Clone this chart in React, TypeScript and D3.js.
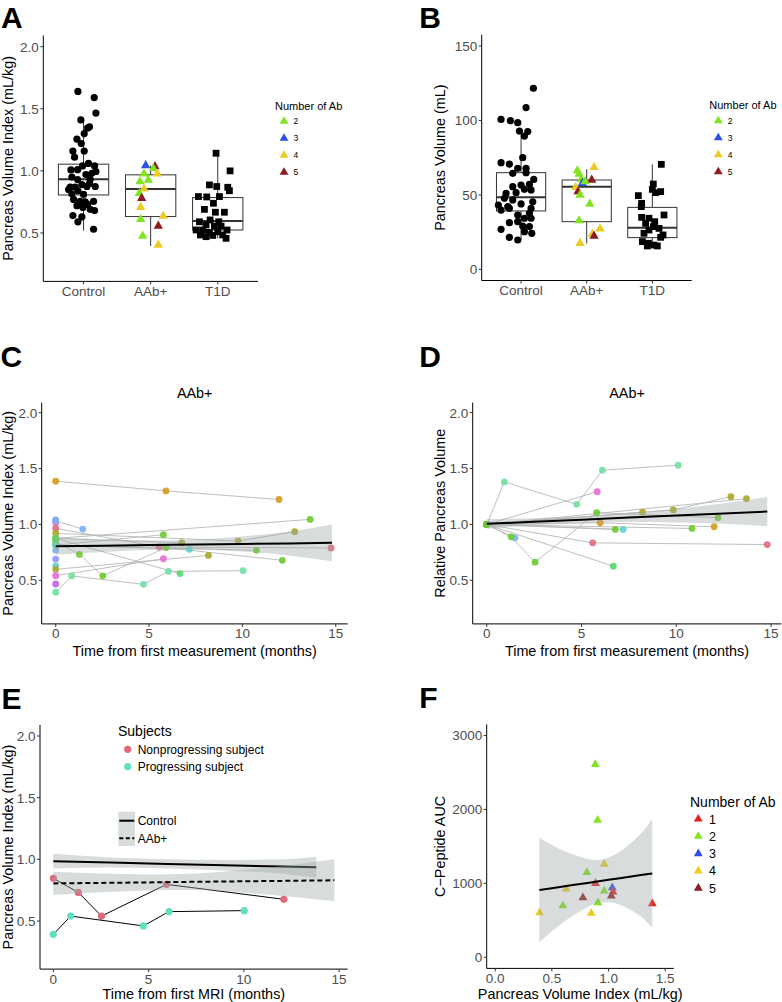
import React from "react";
import * as d3 from "d3";

const FONT = "'Liberation Sans', Arial, Helvetica, sans-serif";
const TICK_COL = "#4d4d4d";
const TICK_FS = 13.5;
const TITLE_FS = 14.4;

// ---------- A & B: group comparison ----------
const groups = ["Control", "AAb+", "T1D"];
const abLevelsAB = ["2", "3", "4", "5"];
const abLevelsF = ["1", "2", "3", "4", "5"];
const abColor: Record<string, string> = {
  "1": "#e3221c",
  "2": "#80e41f",
  "3": "#2d4fe3",
  "4": "#eecb22",
  "5": "#8e1b1f",
};

// A: pancreas volume index (mL/kg); jitter in category units
const idxControl = [1.64, 1.59, 1.465, 1.41, 1.345, 1.355, 1.3, 1.255, 1.22, 1.16, 1.16, 1.11, 1.008, 1.01, 1.04, 1.06, 1.04, 0.995, 0.97, 0.93, 0.95, 0.93, 0.85, 0.815, 0.84, 0.89, 0.875, 0.874, 0.77, 0.755, 0.75, 0.755, 0.72, 0.705, 0.69, 0.68, 0.64, 0.63, 0.59, 0.53, 0.87, 0.87, 0.9, 0.98, 0.81, 0.73];
const idxControlJit = [-0.084, 0.159, 0.184, -0.04, 0.06, 0.089, 0.01, -0.099, -0.035, -0.159, 0.01, -0.134, -0.188, -0.089, -0.015, 0.074, 0.164, 0.184, 0.035, 0.099, -0.174, -0.089, -0.223, -0.174, -0.084, -0.025, 0.05, 0.174, -0.149, -0.05, 0.025, 0.149, -0.099, -0.01, 0.099, 0.164, -0.159, -0.025, -0.084, 0.149, -0.198, -0.124, 0.089, 0.124, 0, 0.06];
const idxAAb = [1.043, 1.035, 1.02, 0.976, 0.976, 0.927, 0.914, 0.855, 0.82, 0.78, 0.707, 0.61, 0.637, 0.556, 0.476, 0.403];
const idxAAbAb = ["3", "5", "2", "2", "4", "2", "2", "4", "2", "5", "4", "2", "4", "5", "2", "4"];
const idxAAbJit = [-0.074, 0.064, 0.04, -0.099, 0.099, -0.035, -0.159, -0.099, -0.169, -0.134, -0.149, -0.149, 0.188, 0.114, -0.119, 0.114];
const idxT1D = [1.142, 1.0, 0.887, 0.874, 0.868, 0.84, 0.793, 0.79, 0.793, 0.739, 0.69, 0.667, 0.667, 0.605, 0.59, 0.59, 0.565, 0.555, 0.555, 0.524, 0.524, 0.505, 0.51, 0.524, 0.484, 0.48, 0.484, 0.457, 0.47];
const idxT1DJit = [-0.025, 0.184, -0.124, -0.015, 0.149, 0.174, -0.288, -0.164, 0.025, -0.064, -0.198, -0.035, 0.099, -0.114, 0.015, -0.273, -0.174, -0.05, 0.05, -0.322, -0.223, -0.124, 0, 0.139, -0.258, -0.074, 0.074, 0.124, -0.174];
// lower whisker, Q1, median, Q3, upper whisker
const idxBoxes = [
  [0.52, 0.806, 0.933, 1.054, 1.41],
  [0.395, 0.632, 0.855, 0.968, 1.043],
  [0.457, 0.524, 0.597, 0.785, 1.142],
];

// B: pancreas volume (mL)
const volControl = [121.6, 108.6, 100.7, 99.8, 98.5, 92.5, 92.9, 89.5, 75.0, 71.6, 70.7, 67.8, 67.8, 64.5, 64.9, 60.4, 56.6, 57.1, 55.5, 53.7, 51.5, 51.0, 53.3, 47.7, 46.6, 45.4, 43.2, 42.1, 43.9, 39.8, 41.0, 41.0, 36.5, 37.6, 34.3, 32.0, 34.3, 31.3, 29.1, 28.7, 26.9, 25.3, 24.2, 21.5, 19.7];
const volControlJit = [0.188, 0.076, -0.305, -0.163, -0.051, 0.102, -0.025, 0.051, 0.025, -0.305, -0.178, -0.051, 0.076, -0.127, 0.076, 0.193, 0, 0.127, -0.127, 0.051, -0.076, -0.229, 0.152, -0.254, -0.127, 0.178, -0.346, -0.203, 0, -0.305, -0.178, 0.152, -0.051, 0.127, 0.051, -0.051, 0.152, -0.178, 0.025, 0.127, -0.305, 0.051, 0.163, -0.178, -0.051];
const volAAb = [66.3, 64.0, 68.5, 60.4, 60.0, 57.8, 58.9, 55.1, 52.2, 49.9, 43.9, 32.7, 27.3, 23.7, 22.4, 17.5];
const volAAbAb = ["2", "2", "4", "2", "5", "3", "2", "4", "5", "2", "2", "2", "4", "4", "5", "4"];
const volAAbJit = [-0.142, -0.117, 0.112, -0.081, 0.076, -0.066, -0.025, -0.168, -0.132, -0.102, 0.046, -0.117, 0.203, 0.086, 0.112, -0.102];
const volT1D = [70.5, 57.3, 53.7, 52.2, 51.5, 49.5, 44.3, 42.1, 36.5, 34.9, 34.3, 32.0, 30.9, 28.7, 27.5, 26.4, 24.2, 23.1, 21.5, 18.6, 17.5, 16.3, 15.7, 15.7];
const volT1DJit = [0.137, 0.015, 0, 0.127, 0.051, -0.213, -0.163, -0.168, 0.178, -0.163, -0.051, 0.036, -0.102, 0.015, 0.102, -0.051, -0.127, 0.163, 0.127, -0.152, -0.061, 0.025, 0.076, -0.076];
const volBoxes = [
  [19.5, 39.2, 48.4, 64.9, 93],
  [17.5, 32.0, 55.5, 60.0, 67.2],
  [15.7, 21.3, 28.0, 41.6, 70.5],
];

// ---------- C & D: longitudinal AAb+ ----------
const PAL = {
  orange: "#d49a1d",
  olive: "#a9a727",
  green: "#6bcb2b",
  lgreen: "#58d86f",
  mint: "#70e0a2",
  cyan: "#62d0d0",
  lblue: "#74b5f2",
  peri: "#9093f2",
  purple: "#c262ea",
  magenta: "#e66bd8",
  pink: "#e0697a",
};

type Subject = { col: string; t: number[]; v: number[] };

const cSubjects: Subject[] = [
  { col: PAL.orange, t: [0, 5.91, 11.96], v: [1.387, 1.3, 1.223] },
  { col: PAL.lblue, t: [0, 1.45], v: [1.032, 0.958] },
  { col: PAL.pink, t: [0, 5.55, 14.75], v: [0.964, 0.798, 0.789] },
  { col: PAL.olive, t: [0, 9.77, 12.8], v: [0.92, 0.851, 0.935] },
  { col: PAL.green, t: [0, 13.63], v: [0.875, 1.045] },
  { col: PAL.green, t: [0, 1.27, 2.52, 5.91, 12.14], v: [0.845, 0.732, 0.54, 0.792, 0.679] },
  { col: PAL.green, t: [0, 5.77], v: [0.815, 0.908] },
  { col: PAL.olive, t: [0, 6.75], v: [0.875, 0.836] },
  { col: PAL.green, t: [0, 10.75], v: [0.815, 0.768] },
  { col: PAL.cyan, t: [0, 7.16], v: [0.815, 0.777] },
  { col: PAL.lgreen, t: [0, 6.66], v: [0.875, 0.56] },
  { col: PAL.olive, t: [0, 8.18], v: [0.598, 0.723] },
  { col: PAL.magenta, t: [0, 5.77], v: [0.541, 0.693] },
  { col: PAL.mint, t: [0, 0.86, 4.7, 6.04, 10.04], v: [0.393, 0.539, 0.464, 0.58, 0.586] },
];
const cSingleV = [1.04, 1.014, 0.77, 0.69, 0.63, 0.467];
const cSingleCol = [PAL.peri, PAL.magenta, PAL.lblue, PAL.peri, PAL.cyan, PAL.purple];
const cFitT = [0, 2.5, 5, 7.5, 10, 12.5, 14.8];
const cFit = [0.805, 0.81, 0.815, 0.82, 0.825, 0.83, 0.835];
const cFitHi = [0.882, 0.866, 0.858, 0.866, 0.893, 0.937, 1.0];
const cFitLo = [0.728, 0.754, 0.772, 0.774, 0.757, 0.723, 0.67];

const dSubjects: Subject[] = [
  { col: PAL.mint, t: [0, 0.93, 4.75, 6.1, 10.1], v: [1, 1.38, 1.18, 1.485, 1.53] },
  { col: PAL.magenta, t: [0, 5.83], v: [1, 1.293] },
  { col: PAL.lgreen, t: [0, 6.68], v: [1, 0.626] },
  { col: PAL.lblue, t: [0, 1.49], v: [1, 0.88] },
  { col: PAL.pink, t: [0, 5.59, 14.8], v: [1, 0.835, 0.82] },
  { col: PAL.cyan, t: [0, 7.2], v: [1, 0.955] },
  { col: PAL.orange, t: [0, 5.98, 12.0], v: [1, 1.015, 0.979] },
  { col: PAL.olive, t: [0, 8.22], v: [1, 1.11] },
  { col: PAL.olive, t: [0, 9.84, 12.88], v: [1, 1.13, 1.248] },
  { col: PAL.olive, t: [0, 13.7], v: [1, 1.23] },
  { col: PAL.green, t: [0, 10.83], v: [1, 0.964] },
  { col: PAL.green, t: [0, 6.78], v: [1, 0.955] },
  { col: PAL.green, t: [0, 1.28, 2.55, 5.8, 12.2], v: [1, 0.889, 0.662, 1.105, 1.06] },
];
const dFitT = [0, 2.5, 5, 7.5, 10, 12.5, 14.8];
const dFit = [1.005, 1.024, 1.042, 1.061, 1.079, 1.098, 1.115];
const dFitHi = [1.048, 1.055, 1.072, 1.1, 1.14, 1.19, 1.245];
const dFitLo = [0.962, 0.993, 1.012, 1.022, 1.018, 1.006, 0.985];

// ---------- E: progressors vs non-progressors ----------
const nonprogT = [0, 1.31, 2.53, 5.94, 12.1];
const nonprogV = [0.846, 0.732, 0.54, 0.797, 0.676];
const progT = [0, 0.91, 4.72, 6.07, 10.02];
const progV = [0.392, 0.54, 0.46, 0.576, 0.584];
const ctrlFitT = [0, 3, 6, 9, 12, 13.8];
const ctrlFit = [0.985, 0.974, 0.963, 0.952, 0.942, 0.935];
const ctrlFitHi = [1.045, 1.015, 1.0, 0.995, 1.0, 1.02];
const ctrlFitLo = [0.925, 0.933, 0.926, 0.909, 0.884, 0.85];
const aabFitT = [0, 2.5, 5, 7.5, 10, 12.5, 14.75];
const aabFit = [0.805, 0.809, 0.813, 0.818, 0.822, 0.826, 0.83];
const aabFitHi = [0.9, 0.885, 0.878, 0.885, 0.915, 0.955, 1.0];
const aabFitLo = [0.71, 0.733, 0.748, 0.751, 0.729, 0.697, 0.66];
const subjectLabels = ["Nonprogressing subject", "Progressing subject"];
const subjectColors = ["#e2697c", "#62dfbf"];

// ---------- F: C-peptide vs volume index ----------
const fIndex = [0.883, 0.903, 0.962, 0.809, 0.885, 0.627, 1.033, 1.04, 0.962, 1.024, 0.774, 0.906, 0.597, 1.386, 0.391, 0.847];
const fCpep = [2608, 1856, 1261, 1149, 1000, 923, 941, 883, 896, 829, 806, 739, 698, 725, 604, 595];
const fAb = ["2", "2", "4", "2", "1", "4", "3", "1", "2", "5", "5", "2", "2", "1", "4", "4"];
const fFitX = [0.39, 0.5, 0.6, 0.7, 0.8, 0.9, 1.0, 1.1, 1.2, 1.3, 1.386];
const fFit = [910, 935, 958, 980, 1003, 1025, 1048, 1070, 1093, 1116, 1135];
const fFitHi = [1617, 1518, 1441, 1383, 1338, 1315, 1351, 1428, 1550, 1698, 1870];
const fFitLo = [203, 352, 475, 577, 668, 735, 745, 712, 636, 534, 400];

const fmt1 = d3.format(".1f");
const fmt0 = d3.format("d");
const BAND_FILL = "#9ea8a8";
const BAND_OP = 0.4;
const YTITLE_LEFT = 12.5;
const YTITLE_RIGHT = 445;

type Scale = d3.ScaleLinear<number, number>;

function YAxis({ scale, x, ticks, fmt }: { scale: Scale; x: number; ticks: number[]; fmt: (v: number) => string }) {
  const [b, t] = scale.range();
  return (
    <g>
      <line x1={x} x2={x} y1={b} y2={t} stroke="#000" strokeWidth={1} />
      {ticks.map((v) => (
        <g key={v}>
          <line x1={x - 3} x2={x} y1={scale(v)} y2={scale(v)} stroke="#333" strokeWidth={1} />
          <text x={x - 4.5} y={scale(v)} dy="0.36em" textAnchor="end" fontSize={TICK_FS} fill={TICK_COL}>
            {fmt(v)}
          </text>
        </g>
      ))}
    </g>
  );
}

function XAxis({ scale, y, ticks, labels }: { scale: Scale; y: number; ticks: number[]; labels: string[] }) {
  const [l, r] = scale.range();
  return (
    <g>
      <line x1={l} x2={r} y1={y} y2={y} stroke="#000" strokeWidth={1} />
      {ticks.map((v, i) => (
        <g key={v}>
          <line x1={scale(v)} x2={scale(v)} y1={y} y2={y + 3} stroke="#333" strokeWidth={1} />
          <text x={scale(v)} y={y + 14.5} textAnchor="middle" fontSize={TICK_FS} fill={TICK_COL}>
            {labels[i]}
          </text>
        </g>
      ))}
    </g>
  );
}

function YTitle({ x, y, text }: { x: number; y: number; text: string }) {
  return (
    <text transform={`translate(${x},${y}) rotate(-90)`} textAnchor="middle" fontSize={TITLE_FS} fill="#000">
      {text}
    </text>
  );
}

function PanelLabel({ x, y, text }: { x: number; y: number; text: string }) {
  return (
    <text x={x} y={y} fontSize={30} fontWeight="bold" fill="#000">
      {text}
    </text>
  );
}

function Band({ x, y, xs, lo, hi, fit, dash }: { x: Scale; y: Scale; xs: number[]; lo: number[]; hi: number[]; fit: number[]; dash?: string }) {
  const area = d3
    .area<number>()
    .x((_, i) => x(xs[i]))
    .y0((_, i) => y(lo[i]))
    .y1((_, i) => y(hi[i]))
    .curve(d3.curveMonotoneX);
  const line = d3
    .line<number>()
    .x((_, i) => x(xs[i]))
    .y((_, i) => y(fit[i]));
  return (
    <g>
      <path d={area(xs) || ""} fill={BAND_FILL} opacity={BAND_OP} />
      <path d={line(xs) || ""} fill="none" stroke="#000" strokeWidth={2} strokeDasharray={dash} />
    </g>
  );
}

type BoxProps = {
  left: number;
  right: number;
  top: number;
  bottom: number;
  yDomain: [number, number];
  yTicks: number[];
  yFmt: (v: number) => string;
  yTitle: string;
  yTitleX: number;
  boxes: number[][];
  ctrlV: number[];
  ctrlJit: number[];
  aabV: number[];
  aabAb: string[];
  aabJit: number[];
  t1dV: number[];
  t1dJit: number[];
  legX: number;
  legY: number;
};

function BoxPanel(p: BoxProps) {
  const x = d3.scaleLinear().domain([0.4, 3.6]).range([p.left, p.right]);
  const unit = x(2) - x(1);
  const y = d3.scaleLinear().domain(p.yDomain).range([p.bottom, p.top]);
  const tri = d3.symbol(d3.symbolTriangle, 38)() || "";
  const sq = d3.symbol(d3.symbolSquare, 46)() || "";
  const legTri = d3.symbol(d3.symbolTriangle, 34)() || "";
  const half = 0.375 * unit;
  return (
    <g>
      {p.boxes.map((b, i) => {
        const cx = x(i + 1);
        return (
          <g key={i} stroke="#333" fill="none">
            <line x1={cx} x2={cx} y1={y(b[0])} y2={y(b[1])} strokeWidth={1} />
            <line x1={cx} x2={cx} y1={y(b[3])} y2={y(b[4])} strokeWidth={1} />
            <rect x={cx - half} width={2 * half} y={y(b[3])} height={y(b[1]) - y(b[3])} fill="white" strokeWidth={1} />
            <line x1={cx - half} x2={cx + half} y1={y(b[2])} y2={y(b[2])} strokeWidth={2} />
          </g>
        );
      })}
      {p.ctrlV.map((v, i) => (
        <circle key={i} cx={x(1 + p.ctrlJit[i])} cy={y(v)} r={3.6} fill="#000" />
      ))}
      {p.aabV.map((v, i) => (
        <path key={i} d={tri} transform={`translate(${x(2 + p.aabJit[i])},${y(v)})`} fill={abColor[p.aabAb[i]]} />
      ))}
      {p.t1dV.map((v, i) => (
        <path key={i} d={sq} transform={`translate(${x(3 + p.t1dJit[i])},${y(v)})`} fill="#000" />
      ))}
      <YAxis scale={y} x={p.left} ticks={p.yTicks} fmt={p.yFmt} />
      <XAxis scale={x} y={p.bottom} ticks={[1, 2, 3]} labels={groups} />
      <YTitle x={p.yTitleX} y={(p.top + p.bottom) / 2} text={p.yTitle} />
      <text x={p.legX} y={p.legY} fontSize={11} fill="#000">
        Number of Ab
      </text>
      {abLevelsAB.map((lv, i) => (
        <g key={lv} transform={`translate(0,${p.legY + 11.8 + i * 17})`}>
          <path d={legTri} transform={`translate(${p.legX + 9},0)`} fill={abColor[lv]} />
          <text x={p.legX + 18.5} y={0} dy="0.35em" fontSize={8.5} fill="#000">
            {lv}
          </text>
        </g>
      ))}
    </g>
  );
}

type TrajProps = {
  left: number;
  right: number;
  top: number;
  bottom: number;
  xDomain: [number, number];
  subjects: Subject[];
  singleV?: number[];
  singleCol?: string[];
  fitT: number[];
  fit: number[];
  fitHi: number[];
  fitLo: number[];
  yTitle: string;
  yTitleX: number;
};

function TrajPanel(p: TrajProps) {
  const x = d3.scaleLinear().domain(p.xDomain).range([p.left, p.right]);
  const y = d3.scaleLinear().domain([0.11, 2.09]).range([p.bottom, p.top]);
  const line = d3.line<number>();
  return (
    <g>
      {p.subjects.map((s, k) => (
        <path
          key={k}
          d={line(s.t.map((t, i) => [x(t), y(s.v[i])]) as any) || ""}
          fill="none"
          stroke="#b8b8b8"
          strokeWidth={0.9}
        />
      ))}
      {(p.singleV || []).map((v, i) => (
        <circle key={"s" + i} cx={x(0)} cy={y(v)} r={3.4} fill={(p.singleCol || [])[i]} opacity={0.9} />
      ))}
      {p.subjects.map((s, k) =>
        s.t.map((t, i) => <circle key={k + "-" + i} cx={x(t)} cy={y(s.v[i])} r={3.4} fill={s.col} opacity={0.9} />)
      )}
      <Band x={x} y={y} xs={p.fitT} lo={p.fitLo} hi={p.fitHi} fit={p.fit} />
      <YAxis scale={y} x={p.left} ticks={[0.5, 1, 1.5, 2]} fmt={fmt1} />
      <XAxis scale={x} y={p.bottom} ticks={[0, 5, 10, 15]} labels={["0", "5", "10", "15"]} />
      <text x={(p.left + p.right) / 2} y={p.top - 4.6} textAnchor="middle" fontSize={TITLE_FS} fill="#000">
        AAb+
      </text>
      <text x={(p.left + p.right) / 2} y={655.5} textAnchor="middle" fontSize={TITLE_FS} fill="#000">
        Time from first measurement (months)
      </text>
      <YTitle x={p.yTitleX} y={(p.top + p.bottom) / 2} text={p.yTitle} />
    </g>
  );
}

function PanelE() {
  const left = 40,
    right = 347.7,
    top = 724.9,
    bottom = 969.1;
  const x = d3.scaleLinear().domain([-0.7, 15.45]).range([left, right]);
  const y = d3.scaleLinear().domain([0.11, 2.09]).range([bottom, top]);
  const line = d3.line<number>();
  const series = [
    { t: nonprogT, v: nonprogV },
    { t: progT, v: progV },
  ];
  return (
    <g>
      {series.map((s, k) => (
        <g key={k}>
          <path
            d={line(s.t.map((t, i) => [x(t), y(s.v[i])]) as any) || ""}
            fill="none"
            stroke="#000"
            strokeWidth={1}
          />
          {s.t.map((t, i) => (
            <circle key={i} cx={x(t)} cy={y(s.v[i])} r={3.6} fill={subjectColors[k]} />
          ))}
        </g>
      ))}
      <Band x={x} y={y} xs={ctrlFitT} lo={ctrlFitLo} hi={ctrlFitHi} fit={ctrlFit} />
      <Band x={x} y={y} xs={aabFitT} lo={aabFitLo} hi={aabFitHi} fit={aabFit} dash="5,3" />
      <YAxis scale={y} x={left} ticks={[0.5, 1, 1.5, 2]} fmt={fmt1} />
      <XAxis scale={x} y={bottom} ticks={[0, 5, 10, 15]} labels={["0", "5", "10", "15"]} />
      <text x={(left + right) / 2} y={998.5} textAnchor="middle" fontSize={TITLE_FS} fill="#000">
        Time from first MRI (months)
      </text>
      <YTitle x={YTITLE_LEFT} y={(top + bottom) / 2} text="Pancreas Volume Index (mL/kg)" />
      {/* subject legend */}
      <text x={118} y={735.5} fontSize={14} fill="#000">
        Subjects
      </text>
      {subjectLabels.map((lab, i) => (
        <g key={lab} transform={`translate(0,${749.3 + i * 17.4})`}>
          <circle cx={127.7} cy={0} r={3.6} fill={subjectColors[i]} />
          <text x={137.7} y={0} dy="0.36em" fontSize={12} fill="#000">
            {lab}
          </text>
        </g>
      ))}
      {/* fit legend */}
      <rect x={118.3} y={811.7} width={16.7} height={34.3} fill={BAND_FILL} opacity={BAND_OP} />
      {["Control", "AAb+"].map((lab, i) => (
        <g key={lab} transform={`translate(0,${820.7 + i * 17.6})`}>
          <line x1={119.3} x2={134.3} y1={0} y2={0} stroke="#000" strokeWidth={2} strokeDasharray={i === 1 ? "4,2.5" : undefined} />
          <text x={137.7} y={0} dy="0.36em" fontSize={12} fill="#000">
            {lab}
          </text>
        </g>
      ))}
    </g>
  );
}

function PanelF() {
  const left = 486.7,
    right = 673.7,
    top = 724.4,
    bottom = 968.4;
  const x = d3.scaleLinear().domain([-0.075, 1.575]).range([left, right]);
  const y = d3.scaleLinear().domain([-150, 3150]).range([bottom, top]);
  const tri = d3.symbol(d3.symbolTriangle, 34)() || "";
  return (
    <g>
      {fIndex.map((v, i) => (
        <path key={i} d={tri} transform={`translate(${x(v)},${y(fCpep[i])})`} fill={abColor[fAb[i]]} />
      ))}
      <Band x={x} y={y} xs={fFitX} lo={fFitLo} hi={fFitHi} fit={fFit} />
      <YAxis scale={y} x={left} ticks={[0, 1000, 2000, 3000]} fmt={fmt0} />
      <XAxis scale={x} y={bottom} ticks={[0, 0.5, 1, 1.5]} labels={[0, 0.5, 1, 1.5].map(fmt1)} />
      <text x={(left + right) / 2} y={998.5} textAnchor="middle" fontSize={TITLE_FS} fill="#000">
        Pancreas Volume Index (mL/kg)
      </text>
      <YTitle x={YTITLE_RIGHT} y={(top + bottom) / 2} text="C−Peptide AUC" />
      <text x={690} y={806.5} fontSize={14} fill="#000">
        Number of Ab
      </text>
      {abLevelsF.map((lv, i) => (
        <g key={lv} transform={`translate(0,${819 + i * 17.3})`}>
          <path d={tri} transform="translate(698.3,0)" fill={abColor[lv]} />
          <text x={709} y={0} dy="0.36em" fontSize={12.5} fill="#000">
            {lv}
          </text>
        </g>
      ))}
    </g>
  );
}

export default function App() {
  return (
    <div>
      <style>{"body{margin:0;}"}</style>
      <svg width={782} height={1002} viewBox="0 0 782 1002" style={{ display: "block", fontFamily: FONT }}>
        <rect width={782} height={1002} fill="#fff" />
        <PanelLabel x={1} y={27.5} text="A" />
        <PanelLabel x={419.3} y={27.5} text="B" />
        <PanelLabel x={0.5} y={366.5} text="C" />
        <PanelLabel x={419.3} y={366.5} text="D" />
        <PanelLabel x={1.5} y={709} text="E" />
        <PanelLabel x={419.3} y={708.3} text="F" />
        <BoxPanel
          left={43.3}
          right={258}
          top={35.5}
          bottom={281.4}
          yDomain={[0.11, 2.09]}
          yTicks={[0.5, 1, 1.5, 2]}
          yFmt={fmt1}
          yTitle="Pancreas Volume Index (mL/kg)"
          yTitleX={YTITLE_LEFT}
          boxes={idxBoxes}
          ctrlV={idxControl}
          ctrlJit={idxControlJit}
          aabV={idxAAb}
          aabAb={idxAAbAb}
          aabJit={idxAAbJit}
          t1dV={idxT1D}
          t1dJit={idxT1DJit}
          legX={275}
          legY={109.5}
        />
        <BoxPanel
          left={481.7}
          right={691.7}
          top={34.8}
          bottom={280.5}
          yDomain={[-7.5, 157.5]}
          yTicks={[0, 50, 100, 150]}
          yFmt={fmt0}
          yTitle="Pancreas Volume (mL)"
          yTitleX={YTITLE_RIGHT}
          boxes={volBoxes}
          ctrlV={volControl}
          ctrlJit={volControlJit}
          aabV={volAAb}
          aabAb={volAAbAb}
          aabJit={volAAbJit}
          t1dV={volT1D}
          t1dJit={volT1DJit}
          legX={709.3}
          legY={109}
        />
        <TrajPanel
          left={41.7}
          right={347.7}
          top={402.6}
          bottom={623.9}
          xDomain={[-0.75, 15.64]}
          subjects={cSubjects}
          singleV={cSingleV}
          singleCol={cSingleCol}
          fitT={cFitT}
          fit={cFit}
          fitHi={cFitHi}
          fitLo={cFitLo}
          yTitle="Pancreas Volume Index (mL/kg)"
          yTitleX={YTITLE_LEFT}
        />
        <TrajPanel
          left={472.7}
          right={781.3}
          top={402.6}
          bottom={623.9}
          xDomain={[-0.74, 15.54]}
          subjects={dSubjects}
          fitT={dFitT}
          fit={dFit}
          fitHi={dFitHi}
          fitLo={dFitLo}
          yTitle="Relative Pancreas Volume"
          yTitleX={YTITLE_RIGHT}
        />
        <PanelE />
        <PanelF />
      </svg>
    </div>
  );
}
